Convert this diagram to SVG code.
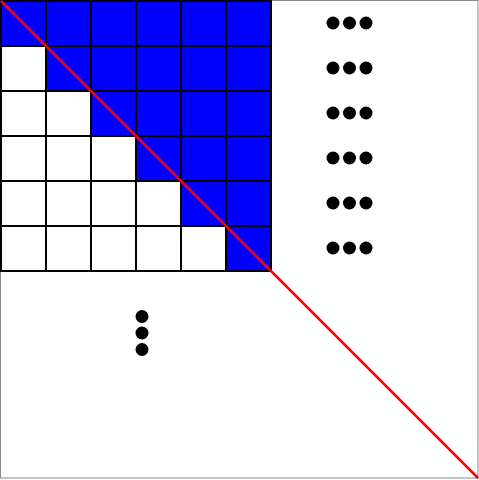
<svg xmlns="http://www.w3.org/2000/svg" width="479" height="480" viewBox="0 0 479 480">
<style>
.cell{stroke:#000;stroke-width:2}
.b{fill:#0000ff}
.w{fill:#fff}
.dot{fill:#000}
</style>
<rect x="0" y="0" width="479" height="480" fill="#fff"/>
<rect x="0.5" y="0.5" width="477.5" height="477.5" fill="none" stroke="#888" stroke-width="1"/>
<g id="grid">
<rect class="cell b" x="1" y="1" width="45" height="45"/><rect class="cell b" x="46" y="1" width="45" height="45"/><rect class="cell b" x="91" y="1" width="45" height="45"/><rect class="cell b" x="136" y="1" width="45" height="45"/><rect class="cell b" x="181" y="1" width="45" height="45"/><rect class="cell b" x="226" y="1" width="45" height="45"/>
<rect class="cell w" x="1" y="46" width="45" height="45"/><rect class="cell b" x="46" y="46" width="45" height="45"/><rect class="cell b" x="91" y="46" width="45" height="45"/><rect class="cell b" x="136" y="46" width="45" height="45"/><rect class="cell b" x="181" y="46" width="45" height="45"/><rect class="cell b" x="226" y="46" width="45" height="45"/>
<rect class="cell w" x="1" y="91" width="45" height="45"/><rect class="cell w" x="46" y="91" width="45" height="45"/><rect class="cell b" x="91" y="91" width="45" height="45"/><rect class="cell b" x="136" y="91" width="45" height="45"/><rect class="cell b" x="181" y="91" width="45" height="45"/><rect class="cell b" x="226" y="91" width="45" height="45"/>
<rect class="cell w" x="1" y="136" width="45" height="45"/><rect class="cell w" x="46" y="136" width="45" height="45"/><rect class="cell w" x="91" y="136" width="45" height="45"/><rect class="cell b" x="136" y="136" width="45" height="45"/><rect class="cell b" x="181" y="136" width="45" height="45"/><rect class="cell b" x="226" y="136" width="45" height="45"/>
<rect class="cell w" x="1" y="181" width="45" height="45"/><rect class="cell w" x="46" y="181" width="45" height="45"/><rect class="cell w" x="91" y="181" width="45" height="45"/><rect class="cell w" x="136" y="181" width="45" height="45"/><rect class="cell b" x="181" y="181" width="45" height="45"/><rect class="cell b" x="226" y="181" width="45" height="45"/>
<rect class="cell w" x="1" y="226" width="45" height="45"/><rect class="cell w" x="46" y="226" width="45" height="45"/><rect class="cell w" x="91" y="226" width="45" height="45"/><rect class="cell w" x="136" y="226" width="45" height="45"/><rect class="cell w" x="181" y="226" width="45" height="45"/><rect class="cell b" x="226" y="226" width="45" height="45"/>
</g>
<g id="dots">
<circle class="dot" cx="333" cy="23" r="6.5"/><circle class="dot" cx="349.5" cy="23" r="6.5"/><circle class="dot" cx="366" cy="23" r="6.5"/>
<circle class="dot" cx="333" cy="68" r="6.5"/><circle class="dot" cx="349.5" cy="68" r="6.5"/><circle class="dot" cx="366" cy="68" r="6.5"/>
<circle class="dot" cx="333" cy="113" r="6.5"/><circle class="dot" cx="349.5" cy="113" r="6.5"/><circle class="dot" cx="366" cy="113" r="6.5"/>
<circle class="dot" cx="333" cy="158" r="6.5"/><circle class="dot" cx="349.5" cy="158" r="6.5"/><circle class="dot" cx="366" cy="158" r="6.5"/>
<circle class="dot" cx="333" cy="203" r="6.5"/><circle class="dot" cx="349.5" cy="203" r="6.5"/><circle class="dot" cx="366" cy="203" r="6.5"/>
<circle class="dot" cx="333" cy="248" r="6.5"/><circle class="dot" cx="349.5" cy="248" r="6.5"/><circle class="dot" cx="366" cy="248" r="6.5"/>
<circle class="dot" cx="142" cy="316.5" r="6.5"/><circle class="dot" cx="142" cy="333" r="6.5"/><circle class="dot" cx="142" cy="349.5" r="6.5"/>
</g>
<g id="connectors">
<line x1="1" y1="1" x2="478" y2="478" stroke="#ff0000" stroke-width="2.5"/>
</g>
</svg>
